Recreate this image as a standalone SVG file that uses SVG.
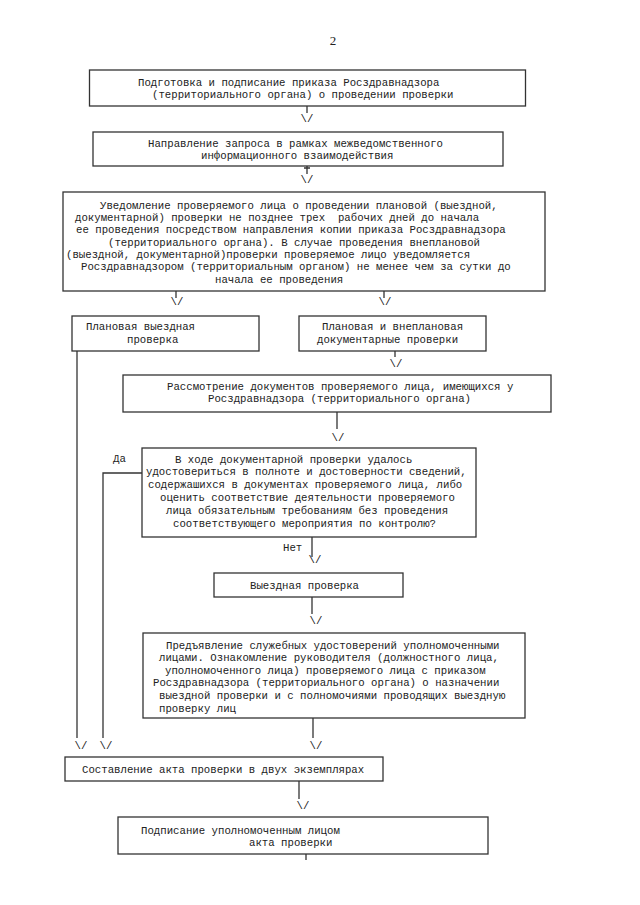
<svg xmlns="http://www.w3.org/2000/svg" width="640" height="905" viewBox="0 0 640 905">
<style>
.bg{fill:#fff}
.box{fill:#fff;stroke:#333;stroke-width:1.3}
.t{font-family:"Liberation Mono","DejaVu Sans Mono",monospace;font-size:10.7px;fill:#222;white-space:pre}
.ln{stroke:#333;stroke-width:1.3;fill:none}
.ar{font-family:"Liberation Mono","DejaVu Sans Mono",monospace;font-size:10.7px;fill:#222;text-anchor:middle}
.pg{font-family:"Liberation Serif","Times New Roman",serif;font-size:13px;fill:#222;text-anchor:middle}
</style>
<rect class="bg" x="0" y="0" width="640" height="905"/>
<text class="pg" x="333" y="45">2</text>

<g id="n1">
<rect class="box" x="89.5" y="70" width="436" height="36"/>
<text class="t" x="138" y="86">Подготовка и подписание приказа Росздравнадзора</text>
<text class="t" x="152" y="98">(территориального органа) о проведении проверки</text>
</g>

<g id="n2">
<rect class="box" x="93" y="132" width="410" height="34"/>
<text class="t" x="148" y="147">Направление запроса в рамках межведомственного</text>
<text class="t" x="201" y="159">информационного взаимодействия</text>
</g>

<g id="n3">
<rect class="box" x="63" y="192" width="482" height="99"/>
<text class="t" x="100" y="208.5">Уведомление проверяемого лица о проведении плановой (выездной,</text>
<text class="t" x="75" y="220.8">документарной) проверки не позднее трех  рабочих дней до начала</text>
<text class="t" x="76" y="233.2">ее проведения посредством направления копии приказа Росздравнадзора</text>
<text class="t" x="108" y="245.5">(территориального органа). В случае проведения внеплановой</text>
<text class="t" x="66" y="257.8">(выездной, документарной)проверки проверяемое лицо уведомляется</text>
<text class="t" x="81" y="270.2">Росздравнадзором (территориальным органом) не менее чем за сутки до</text>
<text class="t" x="215" y="282.5">начала ее проведения</text>
</g>

<g id="n4">
<rect class="box" x="72" y="316" width="187" height="35"/>
<text class="t" x="86" y="329.5">Плановая выездная</text>
<text class="t" x="127" y="342.5">проверка</text>
</g>

<g id="n5">
<rect class="box" x="299" y="316" width="187" height="35"/>
<text class="t" x="322" y="329.5">Плановая и внеплановая</text>
<text class="t" x="317" y="342.5">документарные проверки</text>
</g>

<g id="n6">
<rect class="box" x="123" y="375" width="428" height="37"/>
<text class="t" x="167" y="389.5">Рассмотрение документов проверяемого лица, имеющихся у</text>
<text class="t" x="208" y="401.5">Росздравнадзора (территориального органа)</text>
</g>

<g id="n7">
<rect class="box" x="142" y="448" width="334" height="89"/>
<text class="t" x="175" y="462.5">В ходе документарной проверки удалось</text>
<text class="t" x="146" y="475.3">удостовериться в полноте и достоверности сведений,</text>
<text class="t" x="148" y="488.1">содержашихся в документах проверяемого лица, либо</text>
<text class="t" x="160" y="500.9">оценить соответствие деятельности проверяемого</text>
<text class="t" x="166" y="513.7">лица обязательным требованиям без проведения</text>
<text class="t" x="173" y="526.5">соответствующего мероприятия по контролю?</text>
</g>

<g id="n8">
<rect class="box" x="214" y="573" width="189" height="24"/>
<text class="t" x="250" y="588.5">Выездная проверка</text>
</g>

<g id="n9">
<rect class="box" x="143" y="633" width="382" height="85"/>
<text class="t" x="166" y="648.5">Предъявление служебных удостоверений уполномоченными</text>
<text class="t" x="159" y="661.1">лицами. Ознакомление руководителя (должностного лица,</text>
<text class="t" x="165" y="673.7">уполномоченного лица) проверяемого лица с приказом</text>
<text class="t" x="153" y="686.3">Росздравнадзора (территориального органа) о назначении</text>
<text class="t" x="159" y="698.9">выездной проверки и с полномочиями проводящих выездную</text>
<text class="t" x="159" y="711.5">проверку лиц</text>
</g>

<g id="n10">
<rect class="box" x="65" y="757" width="318" height="24"/>
<text class="t" x="82" y="772.5">Составление акта проверки в двух экземплярах</text>
</g>

<g id="n11">
<rect class="box" x="118" y="817" width="370" height="37"/>
<text class="t" x="141" y="833.5">Подписание уполномоченным лицом</text>
<text class="t" x="249" y="845.5">акта проверки</text>
</g>

<g id="connectors">
<path class="ln" d="M307 106V113"/>
<text class="ar" x="307" y="122">\/</text>
<path class="ln" d="M307 166V174M304 168H310"/>
<text class="ar" x="307" y="183">\/</text>
<path class="ln" d="M176 291V298"/>
<text class="ar" x="177" y="305">\/</text>
<path class="ln" d="M384 291V298"/>
<text class="ar" x="385" y="305">\/</text>
<path class="ln" d="M395 351V357"/>
<text class="ar" x="396" y="367">\/</text>
<path class="ln" d="M337 412V429"/>
<text class="ar" x="338" y="441">\/</text>
<path class="ln" d="M142 473H103V738"/>
<text class="t" x="113" y="461.5">Да</text>
<path class="ln" d="M312 537V557"/>
<text class="t" x="283" y="550.5">Нет</text>
<text class="ar" x="315" y="563">\/</text>
<path class="ln" d="M312 597V614"/>
<text class="ar" x="316" y="624">\/</text>
<path class="ln" d="M313 718V738"/>
<text class="ar" x="316" y="749">\/</text>
<path class="ln" d="M77 351V738"/>
<text class="ar" x="81" y="749">\/</text>
<text class="ar" x="106" y="749">\/</text>
<path class="ln" d="M299 781V799"/>
<text class="ar" x="303" y="809">\/</text>
<path class="ln" d="M306 854V860"/>
</g>
</svg>
